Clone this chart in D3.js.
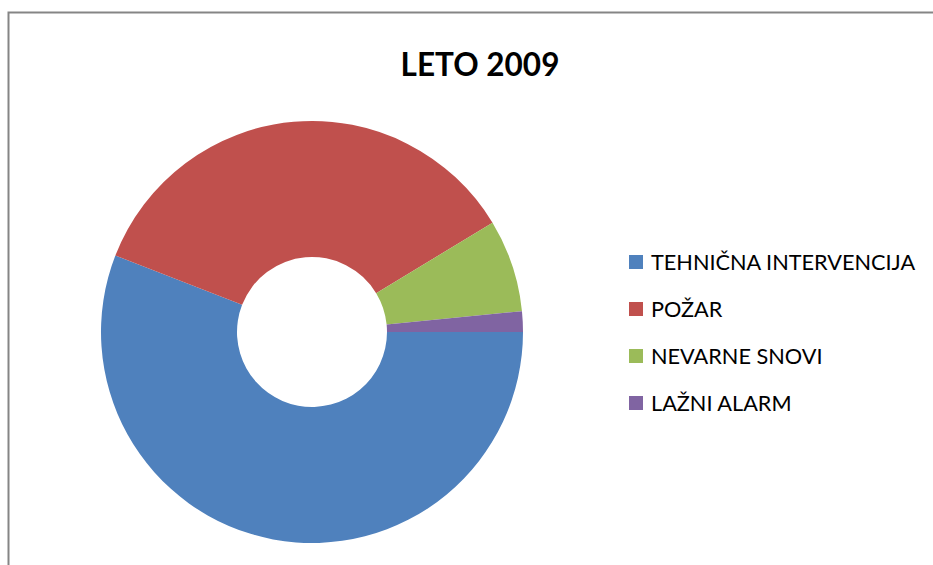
<!DOCTYPE html>
<html>
<head>
<meta charset="utf-8">
<script src="https://cdn.jsdelivr.net/npm/d3@7"></script>
<style>
  body { margin: 0; background: #fff; }
  svg { display: block; }
</style>
</head>
<body>
<svg id="chart" width="933" height="565"></svg>
<script>
"use strict";

const categories = ["TEHNIČNA INTERVENCIJA", "POŽAR", "NEVARNE SNOVI", "LAŽNI ALARM"];
const values = [71, 45, 9, 2];
const colors = ["#4F81BD", "#C0504D", "#9BBB59", "#8064A2"];

const svg = d3.select("#chart");
const font = "Lato, 'Open Sans', sans-serif";

// chart area border (cut off at right/bottom like the original)
svg.append("rect")
  .attr("x", 8.5).attr("y", 12.5)
  .attr("width", 940).attr("height", 570)
  .attr("fill", "none")
  .attr("stroke", "#858585")
  .attr("stroke-width", 2);

svg.append("text")
  .attr("x", 480).attr("y", 76)
  .attr("text-anchor", "middle")
  .attr("font-family", font)
  .attr("font-weight", "bold")
  .attr("font-size", 31.5)
  .text("LETO 2009");

const cx = 312, cy = 332, outerR = 211, innerR = 75;

const pie = d3.pie().sort(null)
  .startAngle(Math.PI / 2)
  .endAngle(Math.PI / 2 + 2 * Math.PI);
const arc = d3.arc().innerRadius(innerR).outerRadius(outerR);

const g = svg.append("g").attr("transform", `translate(${cx},${cy})`);
g.selectAll("path")
  .data(pie(values))
  .enter()
  .append("path")
  .attr("d", arc)
  .attr("fill", (d, i) => colors[i]);

// legend
const legendY = d3.scalePoint().domain(categories).range([262, 403]);
const legend = svg.append("g")
  .selectAll("g")
  .data(categories)
  .enter()
  .append("g")
  .attr("transform", (d) => `translate(629,${legendY(d)})`);

legend.append("rect")
  .attr("x", 0).attr("y", -7)
  .attr("width", 14).attr("height", 14)
  .attr("fill", (d, i) => colors[i]);

legend.append("text")
  .attr("x", 22).attr("y", 7.5)
  .attr("font-family", font)
  .attr("font-size", 21.7)
  .attr("fill", "#000")
  .text((d) => d);
</script>
</body>
</html>
